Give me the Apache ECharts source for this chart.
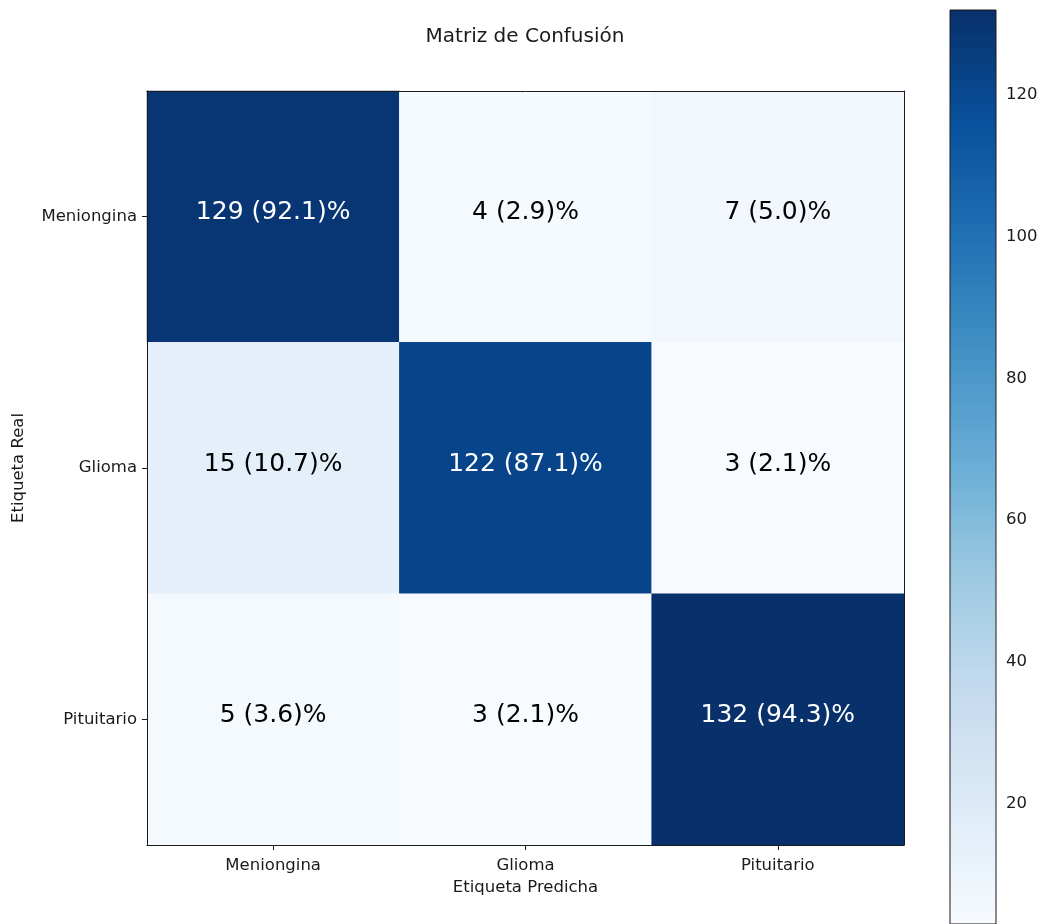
<!DOCTYPE html>
<html>
<head>
<meta charset="utf-8">
<script src="https://cdn.jsdelivr.net/npm/echarts@6/dist/echarts.min.js"></script>
<style>
  html, body { margin: 0; padding: 0; background: #fff; }
  #chart { width: 1042px; height: 924px; }
</style>
</head>
<body>
<div id="chart"></div>
<script>
// Class names (rows = true label, columns = predicted label)
const classes = ['Meniongina', 'Glioma', 'Pituitario'];

// Confusion counts, one array per true class
const rowMeniongina = [129, 4, 7];
const rowGlioma = [15, 122, 3];
const rowPituitario = [5, 3, 132];
const matrixRows = [rowMeniongina, rowGlioma, rowPituitario];

// Colour bar ticks
const colorbarTicks = [20, 40, 60, 80, 100, 120];

// matplotlib "Blues" colour map stops
const blues = ['#f7fbff', '#deebf7', '#c6dbef', '#9ecae1', '#6baed6',
               '#4292c6', '#2171b5', '#08519c', '#08306b'];

const allValues = matrixRows.flat();
const vMin = Math.min(...allValues);
const vMax = Math.max(...allValues);
const threshold = vMax / 2;

const FONT = 'DejaVu Sans';
const TEXT = '#1a1a1a';
const FRAME = '#1a1a1a';
const TICK_SIZE = 16.5;

const heatData = [];
matrixRows.forEach((row, r) => {
  const total = row.reduce((a, b) => a + b, 0);
  row.forEach((v, c) => {
    const pct = (v / total * 100).toFixed(1);
    heatData.push({
      value: [c, r, v],
      label: {
        formatter: v + ' (' + pct + ')%',
        color: v > threshold ? '#ffffff' : '#000000'
      }
    });
  });
});

// Frame-only axis (no ticks, no labels) used to close the plot box on top/right
function frameAxis(type, position) {
  return {
    type: type, gridIndex: 0, data: classes, position: position, z: 10,
    inverse: position === 'right',
    axisLine: { show: true, onZero: false, lineStyle: { color: FRAME, width: 1 } },
    axisTick: { show: false }, axisLabel: { show: false }, splitLine: { show: false }
  };
}

const chart = echarts.init(document.getElementById('chart'), null, { renderer: 'canvas' });

chart.setOption({
  animation: false,
  backgroundColor: '#ffffff',
  title: {
    text: 'Matriz de Confusión',
    left: 520, top: 22, textAlign: 'center',
    textStyle: { fontFamily: FONT, fontSize: 20, fontWeight: 'normal', color: TEXT }
  },
  grid: [
    { left: 147, top: 91, width: 757, height: 754 },
    { left: 950, top: 10, width: 46, height: 915 }
  ],
  xAxis: [
    {
      type: 'category', gridIndex: 0, data: classes, position: 'bottom', z: 10,
      axisLine: { show: true, onZero: false, lineStyle: { color: FRAME, width: 1 } },
      axisTick: { show: true, alignWithLabel: true, length: 5, lineStyle: { color: FRAME } },
      axisLabel: { fontFamily: FONT, fontSize: TICK_SIZE, color: TEXT, margin: 12 },
      splitLine: { show: false },
      name: 'Etiqueta Predicha', nameLocation: 'middle', nameGap: 34,
      nameTextStyle: { fontFamily: FONT, fontSize: TICK_SIZE, color: TEXT, verticalAlign: 'top' }
    },
    {
      type: 'value', gridIndex: 1, min: 0, max: 1, show: false
    },
    frameAxis('category', 'top')
  ],
  yAxis: [
    {
      type: 'category', gridIndex: 0, data: classes, inverse: true, z: 10,
      axisLine: { show: true, onZero: false, lineStyle: { color: FRAME, width: 1 } },
      axisTick: { show: true, alignWithLabel: true, length: 5, lineStyle: { color: FRAME } },
      axisLabel: { fontFamily: FONT, fontSize: TICK_SIZE, color: TEXT, margin: 10 },
      splitLine: { show: false },
      name: 'Etiqueta Real', nameLocation: 'middle', nameGap: 120, nameRotate: 90,
      nameTextStyle: { fontFamily: FONT, fontSize: TICK_SIZE, color: TEXT }
    },
    {
      type: 'value', gridIndex: 1, position: 'right', min: vMin, max: vMax,
      axisLine: { show: false },
      axisTick: { show: true, length: 5, customValues: colorbarTicks, lineStyle: { color: FRAME } },
      axisLabel: {
        fontFamily: FONT, fontSize: TICK_SIZE, color: TEXT, margin: 10,
        customValues: colorbarTicks, padding: [5, 0, 0, 0]
      },
      splitLine: { show: false }
    },
    frameAxis('category', 'right')
  ],
  visualMap: {
    type: 'continuous', show: false, seriesIndex: 0,
    min: vMin, max: vMax, dimension: 2,
    inRange: { color: blues }
  },
  series: [
    {
      type: 'heatmap', xAxisIndex: 0, yAxisIndex: 0,
      data: heatData,
      label: { show: true, fontFamily: FONT, fontSize: 25, offset: [0, -4] },
      emphasis: { disabled: true },
      itemStyle: { borderWidth: 0 }
    },
    {
      // Colour bar: one gradient rectangle spanning the value range
      type: 'custom', xAxisIndex: 1, yAxisIndex: 1, silent: true,
      data: [[0, vMin, vMax]],
      renderItem: function (params, api) {
        const p0 = api.coord([0, api.value(2)]);
        const p1 = api.coord([1, api.value(1)]);
        const stops = blues.map((c, i) => ({ offset: i / (blues.length - 1), color: c }));
        return {
          type: 'rect',
          shape: { x: p0[0], y: p0[1], width: p1[0] - p0[0], height: p1[1] - p0[1] },
          style: {
            fill: new echarts.graphic.LinearGradient(0, 1, 0, 0, stops),
            stroke: FRAME, lineWidth: 1
          }
        };
      }
    }
  ]
});
</script>
</body>
</html>
